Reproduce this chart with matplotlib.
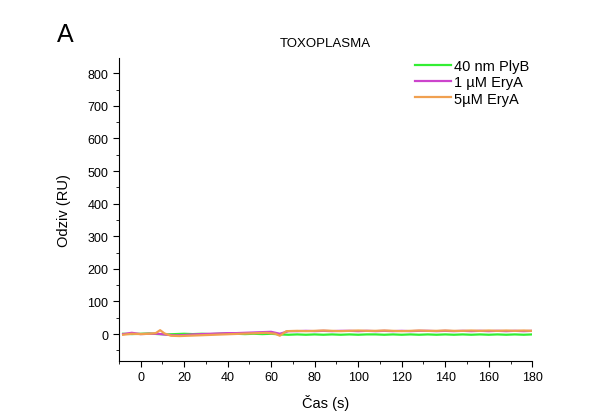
import matplotlib
matplotlib.use("Agg")
import matplotlib.pyplot as plt
from matplotlib.ticker import MultipleLocator

plt.rcParams['font.family'] = ['Liberation Sans', 'DejaVu Sans']

time_s = [-8, -4, 0, 4, 8, 12, 16, 20, 24, 28, 32, 36, 40, 44, 48, 52, 56, 60,
          64, 68, 72, 76, 80, 84, 88, 92, 96, 100, 104, 108, 112, 116, 120,
          124, 128, 132, 136, 140, 144, 148, 152, 156, 160, 164, 168, 172, 176, 180]

plyb_40nm = [1, 0, 1, 2, 0, -1, 0, 1, 0, 1, 0, 1, 2, 1, 0, 1, 0, 1,
             -1, -2, -1, -2, -1, -2, -1, -2, -1, -2, -1, -1, -2, -1, -2,
             -1, -2, -1, -2, -1, -2, -1, -2, -1, -2, -1, -2, -1, -2, -1]

erya_1uM = [0, 4, 0, 1, 1, -2, -4, -3, -1, 0, 1, 2, 3, 3, 4, 5, 6, 7,
            1, 9, 9, 10, 9, 10, 9, 10, 10, 9, 10, 9, 10, 9, 10,
            9, 10, 10, 9, 10, 9, 10, 9, 10, 9, 10, 9, 10, 9, 10]

time_orange = [-8, -4, 0, 4, 7, 9, 11, 14, 18, 22, 26, 30, 34, 38, 42, 46, 50,
               54, 58, 62, 64, 67, 72, 76, 80, 84, 88, 92, 96, 100, 104, 108, 112,
               116, 120, 124, 128, 132, 136, 140, 144, 148, 152, 156, 160, 164,
               168, 172, 176, 180]

erya_5uM = [-2, 1, 0, 1, 3, 12, 2, -5, -6, -5, -4, -3, -2, -1, 0, 1, 2,
            3, 4, 1, -5, 9, 10, 9, 10, 11, 10, 9, 10, 11, 10, 10, 11,
            10, 9, 10, 11, 10, 10, 11, 10, 10, 11, 10, 11, 10,
            11, 10, 11, 10]

fig = plt.figure(figsize=(6.09, 4.14), dpi=100)
ax = fig.add_axes([0.195, 0.126, 0.679, 0.731])

ax.plot(time_s, plyb_40nm, color='#33ee33', lw=1.6, label='40 nm PlyB')
ax.plot(time_s, erya_1uM, color='#cc44cc', lw=1.6, label='1 µM EryA')
ax.plot(time_orange, erya_5uM, color='#f0a050', lw=1.6, label='5µM EryA')

ax.set_xlim(-10, 180)
ax.set_ylim(-82, 846)
ax.xaxis.set_major_locator(MultipleLocator(20))
ax.xaxis.set_minor_locator(MultipleLocator(10))
ax.yaxis.set_major_locator(MultipleLocator(100))
ax.yaxis.set_minor_locator(MultipleLocator(50))
ax.tick_params(which='both', direction='out', labelsize=9)
ax.tick_params(which='major', length=4)
ax.tick_params(which='minor', length=2.5)
for s in ['top', 'right']:
    ax.spines[s].set_visible(False)

ax.set_xlabel('Čas (s)', fontsize=10.5, labelpad=8)
ax.set_ylabel('Odziv (RU)', fontsize=10.5, labelpad=12)
ax.text(0.5, 1.07, 'TOXOPLASMA', transform=ax.transAxes, ha='center', va='top', fontsize=9.5)
ax.legend(loc='upper right', bbox_to_anchor=(1.025, 1.04), frameon=False, fontsize=10.5,
          handlelength=2.5, labelspacing=0.15, handletextpad=0.2)

fig.text(0.107, 0.915, 'A', fontsize=18, ha='center', va='center')

fig.savefig('out.png', dpi=100)
